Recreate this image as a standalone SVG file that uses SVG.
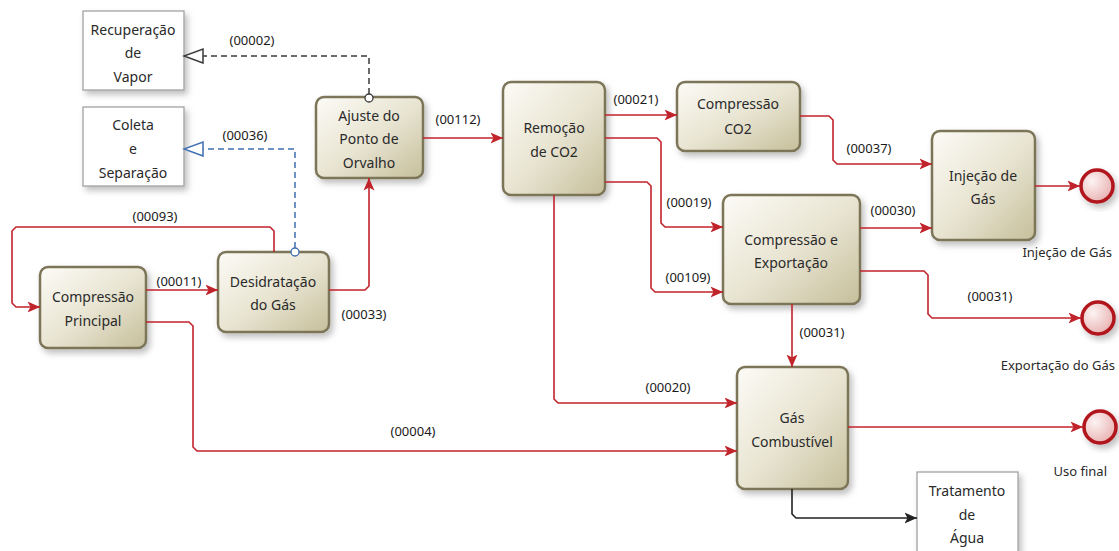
<svg xmlns="http://www.w3.org/2000/svg" width="1119" height="551" viewBox="0 0 1119 551">
<style>
  .node rect.task { fill: url(#taskGrad); stroke: #7b7558; stroke-width: 2.5; filter: url(#shadow); }
  .node rect.ext { fill: #ffffff; stroke: #9a9a9a; stroke-width: 1.2; filter: url(#shadow); }
  .node circle.end { fill: url(#endGrad); stroke: #b0151d; stroke-width: 3.5; filter: url(#shadow); }
  text { font-family: "Noto Sans", "Open Sans", sans-serif; fill: #2a2a2a; text-anchor: middle; dominant-baseline: central; }
  .nt { font-size: 14px; }
  .et { font-size: 13px; text-anchor: end; }
  .lbl { font-size: 13px; fill: #1a1a1a; }
  .flow { fill: none; stroke: #c1232b; stroke-width: 1.6; marker-end: url(#redArrow); }
  .blk { fill: none; stroke: #222; stroke-width: 1.6; marker-end: url(#blackArrow); }
  .assocGray { fill: none; stroke: #3a3a3a; stroke-width: 1.5; stroke-dasharray: 6 4; marker-end: url(#openArrowGray); }
  .assocBlue { fill: none; stroke: #3f6fb0; stroke-width: 1.5; stroke-dasharray: 6 4; marker-end: url(#openArrowBlue); }
  .dotGray { fill: #fff; stroke: #3a3a3a; stroke-width: 1.3; }
  .dotBlue { fill: #fff; stroke: #3f6fb0; stroke-width: 1.3; }
</style>
<defs>
  <linearGradient id="taskGrad" x1="0" y1="0" x2="1" y2="1">
    <stop offset="0" stop-color="#fcfbf6"/>
    <stop offset="0.5" stop-color="#e9e5d3"/>
    <stop offset="1" stop-color="#c6bf9b"/>
  </linearGradient>
  <radialGradient id="endGrad" cx="0.35" cy="0.35" r="0.75">
    <stop offset="0" stop-color="#fdf3f3"/>
    <stop offset="1" stop-color="#e7adad"/>
  </radialGradient>
  <filter id="shadow" x="-20%" y="-20%" width="150%" height="150%">
    <feDropShadow dx="3" dy="4" stdDeviation="3" flood-color="#000" flood-opacity="0.25"/>
  </filter>
  <marker id="redArrow" markerUnits="userSpaceOnUse" markerWidth="13" markerHeight="13" viewBox="0 0 13 13" refX="12.5" refY="6.5" orient="auto">
    <path d="M0,1 L12.5,6.5 L0,12 L3,6.5 z" fill="#c1232b"/>
  </marker>
  <marker id="blackArrow" markerUnits="userSpaceOnUse" markerWidth="13" markerHeight="13" viewBox="0 0 13 13" refX="12.5" refY="6.5" orient="auto">
    <path d="M0,1 L12.5,6.5 L0,12 L3,6.5 z" fill="#222"/>
  </marker>
  <marker id="openArrowGray" markerUnits="userSpaceOnUse" markerWidth="22" markerHeight="18" viewBox="0 0 22 18" refX="20" refY="9" orient="auto">
    <path d="M1,2 L20,9 L1,16 z" fill="#fff" stroke="#3a3a3a" stroke-width="1.5"/>
  </marker>
  <marker id="openArrowBlue" markerUnits="userSpaceOnUse" markerWidth="22" markerHeight="18" viewBox="0 0 22 18" refX="20" refY="9" orient="auto">
    <path d="M1,2 L20,9 L1,16 z" fill="#fff" stroke="#3f6fb0" stroke-width="1.5"/>
  </marker>
</defs>
<rect width="1119" height="551" fill="#ffffff"/>

<g id="recuperacao" class="node">
  <rect class="ext" x="83" y="11" width="101" height="79"/>
  <text class="nt" x="133" y="29">Recuperação</text>
  <text class="nt" x="133" y="52">de</text>
  <text class="nt" x="133" y="76">Vapor</text>
</g>
<g id="coleta" class="node">
  <rect class="ext" x="83" y="107" width="101" height="79"/>
  <text class="nt" x="133" y="124">Coleta</text>
  <text class="nt" x="133" y="148">e</text>
  <text class="nt" x="133" y="172">Separação</text>
</g>
<g id="tratamento" class="node">
  <rect class="ext" x="917" y="472" width="101" height="86"/>
  <text class="nt" x="967" y="490">Tratamento</text>
  <text class="nt" x="967" y="514">de</text>
  <text class="nt" x="967" y="537">Água</text>
</g>
<g id="ajuste" class="node">
  <rect class="task" x="316" y="97" width="107" height="81" rx="8"/>
  <text class="nt" x="369" y="115">Ajuste do</text>
  <text class="nt" x="369" y="138">Ponto de</text>
  <text class="nt" x="369" y="162">Orvalho</text>
</g>
<g id="compressao-principal" class="node">
  <rect class="task" x="40" y="267" width="106" height="81" rx="8"/>
  <text class="nt" x="93" y="296">Compressão</text>
  <text class="nt" x="93" y="320">Principal</text>
</g>
<g id="desidratacao" class="node">
  <rect class="task" x="218" y="252" width="111" height="80" rx="8"/>
  <text class="nt" x="273" y="281">Desidratação</text>
  <text class="nt" x="273" y="304">do Gás</text>
</g>
<g id="remocao-co2" class="node">
  <rect class="task" x="503" y="82" width="102" height="113" rx="8"/>
  <text class="nt" x="554" y="127">Remoção</text>
  <text class="nt" x="554" y="151">de CO2</text>
</g>
<g id="compressao-co2" class="node">
  <rect class="task" x="677" y="82" width="123" height="69" rx="8"/>
  <text class="nt" x="738" y="103">Compressão</text>
  <text class="nt" x="738" y="128">CO2</text>
</g>
<g id="compressao-exportacao" class="node">
  <rect class="task" x="723" y="195" width="137" height="109" rx="8"/>
  <text class="nt" x="791" y="239">Compressão e</text>
  <text class="nt" x="791" y="262">Exportação</text>
</g>
<g id="injecao" class="node">
  <rect class="task" x="932" y="131" width="103" height="109" rx="8"/>
  <text class="nt" x="983" y="175">Injeção de</text>
  <text class="nt" x="983" y="198">Gás</text>
</g>
<g id="gas-combustivel" class="node">
  <rect class="task" x="737" y="367" width="111" height="122" rx="8"/>
  <text class="nt" x="792" y="417">Gás</text>
  <text class="nt" x="792" y="441">Combustível</text>
</g>
<g id="end-injecao" class="node">
  <circle class="end" cx="1097" cy="186" r="16"/>
  <text class="et" x="1112" y="252">Injeção de Gás</text>
</g>
<g id="end-exportacao" class="node">
  <circle class="end" cx="1098" cy="318" r="16"/>
  <text class="et" x="1115" y="365">Exportação do Gás</text>
</g>
<g id="end-uso" class="node">
  <circle class="end" cx="1100" cy="427" r="16"/>
  <text class="et" x="1107" y="471">Uso final</text>
</g>

<g id="connectors">
  <path class="assocGray" d="M369,94 V56 H184"/>
  <circle class="dotGray" cx="369" cy="98" r="4"/>
  <path class="assocBlue" d="M295,248 V149 H184"/>
  <circle class="dotBlue" cx="295" cy="252" r="4"/>
  <path class="flow" d="M274,252 V231 L270,227 H16 L12,231 V303 L16,307 H40"/>
  <path class="flow" d="M146,290 H218"/>
  <path class="flow" d="M329,290 H365 L369,286 V178"/>
  <path class="flow" d="M423,138 H503"/>
  <path class="flow" d="M605,115 H677"/>
  <path class="flow" d="M605,138 H657 L661,142 V223 L665,227 H723"/>
  <path class="flow" d="M605,182 H647 L651,186 V288 L655,292 H723"/>
  <path class="flow" d="M554,195 V399 L558,403 H737"/>
  <path class="flow" d="M146,322 H189 L193,326 V447 L197,451 H737"/>
  <path class="flow" d="M792,304 V367"/>
  <path class="flow" d="M860,228 H932"/>
  <path class="flow" d="M800,116 H829 L833,120 V160 L837,164 H932"/>
  <path class="flow" d="M1035,186 H1080"/>
  <path class="flow" d="M860,271 H924 L928,275 V314 L932,318 H1081"/>
  <path class="flow" d="M848,427 H1083"/>
  <path class="blk" d="M792,489 V514 L796,518 H917"/>
  <g id="connector-labels">
    <text class="lbl" x="252" y="40">(00002)</text>
    <text class="lbl" x="245" y="135">(00036)</text>
    <text class="lbl" x="155" y="216">(00093)</text>
    <text class="lbl" x="179" y="281">(00011)</text>
    <text class="lbl" x="364" y="314">(00033)</text>
    <text class="lbl" x="458" y="119">(00112)</text>
    <text class="lbl" x="636" y="99">(00021)</text>
    <text class="lbl" x="689" y="202">(00019)</text>
    <text class="lbl" x="688" y="277">(00109)</text>
    <text class="lbl" x="668" y="387">(00020)</text>
    <text class="lbl" x="413" y="431">(00004)</text>
    <text class="lbl" x="822" y="332">(00031)</text>
    <text class="lbl" x="893" y="210">(00030)</text>
    <text class="lbl" x="869" y="148">(00037)</text>
    <text class="lbl" x="990" y="296">(00031)</text>
  </g>
</g>
</svg>
